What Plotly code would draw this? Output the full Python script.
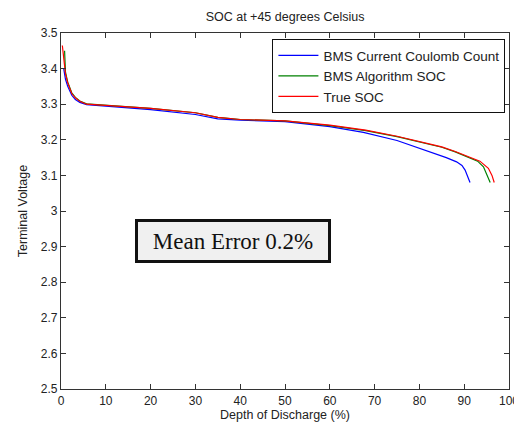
import plotly.graph_objects as go

# Data
true_x = [0.3, 0.5, 1.0, 1.5, 2.4, 3.2, 4.2, 5.7, 10, 20, 30, 35, 40, 50, 60, 68, 75, 80, 85, 88, 91, 93.5, 95.4, 96.2, 96.7]
true_y = [3.465, 3.44, 3.385, 3.36, 3.33, 3.318, 3.308, 3.300, 3.297, 3.288, 3.276, 3.263, 3.257, 3.253, 3.241, 3.227, 3.21, 3.196, 3.18, 3.167, 3.152, 3.14, 3.12, 3.10, 3.08]

alg_x = [0.8, 1.0, 1.5, 2.4, 3.2, 4.2, 5.7, 10, 20, 30, 35, 40, 50, 60, 68, 75, 80, 85, 88, 91, 93.0, 94.3, 95.2, 95.8]
alg_y = [3.45, 3.39, 3.362, 3.332, 3.319, 3.309, 3.301, 3.297, 3.288, 3.276, 3.263, 3.257, 3.253, 3.240, 3.226, 3.209, 3.195, 3.179, 3.166, 3.151, 3.140, 3.124, 3.10, 3.08]

cc_x = [0.6, 1.0, 1.5, 2.4, 3.2, 4.2, 5.7, 10, 20, 30, 35, 40, 50, 60, 67.5, 75, 82.4, 86, 88.3, 89.5, 90.2, 90.8, 91.3]
cc_y = [3.40, 3.37, 3.35, 3.325, 3.313, 3.305, 3.299, 3.295, 3.285, 3.271, 3.259, 3.255, 3.251, 3.237, 3.221, 3.198, 3.166, 3.15, 3.138, 3.128, 3.115, 3.095, 3.08]

x_ticks = [0, 10, 20, 30, 40, 50, 60, 70, 80, 90, 100]
y_ticks = [2.5, 2.6, 2.7, 2.8, 2.9, 3.0, 3.1, 3.2, 3.3, 3.4, 3.5]

FONT = "Liberation Sans, Arial"
TXT = "#222222"

fig = go.Figure()
fig.add_trace(go.Scatter(x=cc_x, y=cc_y, mode="lines", name="BMS Current Coulomb Count",
                         line=dict(color="#0000ff", width=1.2)))
fig.add_trace(go.Scatter(x=alg_x, y=alg_y, mode="lines", name="BMS Algorithm SOC",
                         line=dict(color="#008000", width=1.2)))
fig.add_trace(go.Scatter(x=true_x, y=true_y, mode="lines", name="True SOC",
                         line=dict(color="#ff0000", width=1.2)))

axis_common = dict(showgrid=False, zeroline=False, showline=True, linecolor="#333333",
                   linewidth=1.3, mirror="ticks", ticks="inside", ticklen=5, automargin=False,
                   tickcolor="#333333", tickfont=dict(family=FONT, size=12, color=TXT))

# page has an 8px body margin, so the figure is sized/offset to compensate
fig.update_layout(
    width=514, height=415,
    margin=dict(l=53, r=13, t=25, b=34, autoexpand=False),
    paper_bgcolor="white", plot_bgcolor="white",
    title=dict(text="SOC at +45 degrees Celsius", x=0.539, xanchor="center", y=0.98, yanchor="middle",
               font=dict(family=FONT, size=12.5, color=TXT)),
    xaxis=dict(range=[0, 100], tickvals=x_ticks, ticktext=[str(v) for v in x_ticks],
               title=dict(text="Depth of Discharge (%)", standoff=2,
                          font=dict(family=FONT, size=12.5, color=TXT)),
               **axis_common),
    yaxis=dict(range=[2.5, 3.5], tickvals=y_ticks, ticktext=[("%g" % v) for v in y_ticks],
               title=dict(text="Terminal Voltage", standoff=10,
                          font=dict(family=FONT, size=12.5, color=TXT)),
               **axis_common),
    legend=dict(x=0.992, y=0.983, xanchor="right", yanchor="top",
                bgcolor="white", bordercolor="#111111", borderwidth=1,
                font=dict(family=FONT, size=13.5, color=TXT),
                itemwidth=40, tracegroupgap=0),
    showlegend=True,
)

fig.add_annotation(x=0.384, y=0.417, xref="paper", yref="paper", xanchor="center", yanchor="middle",
                   text="Mean Error 0.2%", showarrow=False, width=182, height=30,
                   font=dict(family="Liberation Serif, Times New Roman", size=23, color="#111111"),
                   bgcolor="#f0f0f0", bordercolor="#111111", borderwidth=3, borderpad=4)

fig.write_html("out.html")
